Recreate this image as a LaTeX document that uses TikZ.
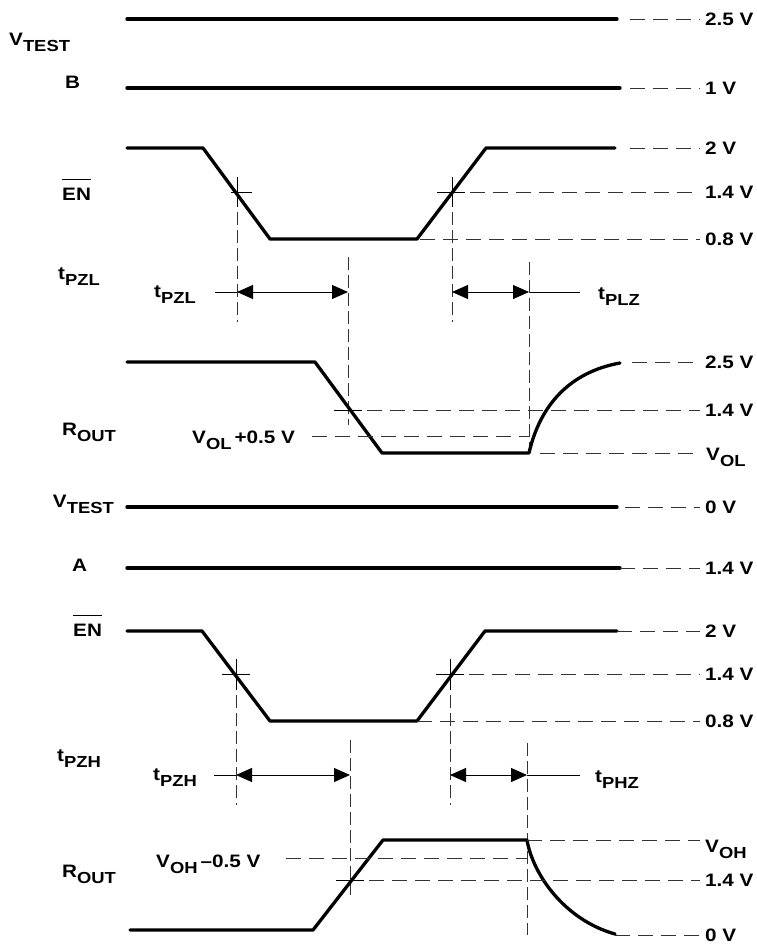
\documentclass[tikz,border=0pt]{standalone}
\usepackage{fontspec}
\setmainfont{Liberation Sans}[FakeStretch=1.15]
\usetikzlibrary{arrows.meta}
\newcommand{\lsub}[1]{\raisebox{-6.5pt}{\fontsize{16}{16}\selectfont #1}}
\begin{document}
\begin{tikzpicture}[x=1pt,y=-1pt,
  sig/.style={line width=3.3pt,line cap=round,line join=round},
  ref/.style={line width=1pt,black!80,dash pattern=on 15pt off 8pt},
  vref/.style={line width=1pt,black!80,dash pattern=on 13pt off 5pt},
  tick/.style={line width=0.9pt},
  dim/.style={line width=1pt,{Triangle[length=16pt,width=14pt]}-{Triangle[length=16pt,width=14pt]}},
  lbl/.style={font=\fontsize{18}{18}\selectfont\bfseries,inner sep=0pt,anchor=base west},
]
\useasboundingbox (0,0) rectangle (757,948);

% ---------- upper set ----------
\draw[sig] (127,19) -- (617,19);
\draw[ref] (630,19) -- (700,19);
\node[lbl] (r1) at (705,25.5) {2.5 V};
\node[lbl] (vt1) at (9,45) {V\lsub{TEST}};

\node[lbl] (b) at (65,88.5) {B};
\draw[sig] (127,88) -- (620,88);
\draw[ref] (630,88) -- (700,88);
\node[lbl] (r2) at (705,94.5) {1 V};

\node[lbl] (en1) at (62,200) {EN};
\draw[line width=0.8pt] ([yshift=8pt]en1.north west) -- ([yshift=8pt]en1.north east);
\draw[sig] (127,148) -- (203,148) -- (270,239) -- (417,239) -- (486,148) -- (615,148);
\draw[ref] (630,148) -- (700,148);
\node[lbl] (r3) at (705,154.5) {2 V};

\draw[tick] (231,192) -- (252,192);
\draw[tick] (237,177) -- (237,207);
\draw[vref] (237,212) -- (237,322);
\draw[tick] (437,192) -- (465,192);
\draw[ref] (470,192) -- (700,192);
\draw[tick] (452,177) -- (452,207);
\draw[vref] (452,212) -- (452,322);
\node[lbl] (r4) at (705,198.5) {1.4 V};
\draw[ref] (420,239) -- (700,239);
\node[lbl] (r5) at (705,245.5) {0.8 V};

\node[lbl] (tpzl1) at (58,279) {t\lsub{PZL}};
\node[lbl] (tpzl2) at (154,297) {t\lsub{PZL}};
\draw[tick] (215,292) -- (237,292);
\draw[dim] (237,292) -- (348,292);
\draw[vref] (348,257) -- (348,425);
\draw[dim] (452,292) -- (529,292);
\draw[tick] (529,292) -- (580,292);
\draw[vref] (529,262) -- (529,453);
\node[lbl] (tplz) at (598,299) {t\lsub{PLZ}};

\node[lbl] (rout1) at (62,435) {R\lsub{OUT}};
\draw[sig] (127,362) -- (315,362) -- (382,453) -- (529,453) .. controls (540,405) and (570,372) .. (620,363);
\draw[ref] (632,362) -- (700,362);
\node[lbl] (r6) at (705,368.5) {2.5 V};
\draw[tick] (334,410) -- (362,410);
\draw[ref] (367,410) -- (700,410);
\node[lbl] (r7) at (705,416.5) {1.4 V};
\draw[ref] (312,436) -- (529,436);
\node[lbl] (vol5) at (192,443) {V\lsub{OL}\,+0.5 V};
\draw[ref] (540,453) -- (700,453);
\node[lbl] (r8) at (706,460) {V\lsub{OL}};

% ---------- lower set ----------
\node[lbl,anchor=base east] (vt2) at (114,507) {V\lsub{TEST}};
\draw[sig] (127,507) -- (617,507);
\draw[ref] (625,507) -- (700,507);
\node[lbl] (r9) at (705,513.5) {0 V};

\node[lbl] (a) at (72,571) {A};
\draw[sig] (127,568) -- (620,568);
\draw[ref] (620,568) -- (700,568);
\node[lbl] (r10) at (705,574.5) {1.4 V};

\node[lbl] (en2) at (73,636) {EN};
\draw[line width=0.8pt] ([yshift=8pt]en2.north west) -- ([yshift=8pt]en2.north east);
\draw[sig] (127,631) -- (202,631) -- (270,721) -- (417,721) -- (485,631) -- (617,631);
\draw[ref] (617,631) -- (700,631);
\node[lbl] (r11) at (705,637.5) {2 V};

\draw[tick] (222,674) -- (250,674);
\draw[tick] (236,659) -- (236,690);
\draw[vref] (236,695) -- (236,805);
\draw[tick] (436,674) -- (464,674);
\draw[ref] (469,674) -- (700,674);
\draw[tick] (450,659) -- (450,690);
\draw[vref] (450,695) -- (450,805);
\node[lbl] (r12) at (705,680.5) {1.4 V};
\draw[ref] (417,721) -- (700,721);
\node[lbl] (r13) at (705,727.5) {0.8 V};

\node[lbl] (tpzh1) at (57,761) {t\lsub{PZH}};
\node[lbl] (tpzh2) at (153,780) {t\lsub{PZH}};
\draw[tick] (214,775) -- (236,775);
\draw[dim] (236,775) -- (350,775);
\draw[vref] (350,740) -- (350,895);
\draw[dim] (450,775) -- (527,775);
\draw[tick] (527,775) -- (580,775);
\draw[vref] (527,743) -- (527,935);
\node[lbl] (tphz) at (595,782) {t\lsub{PHZ}};

\node[lbl] (rout2) at (62,877) {R\lsub{OUT}};
\draw[sig] (130,930) -- (313,930) -- (383,840) -- (527,840) .. controls (533,875) and (565,920) .. (615,934);
\draw[ref] (527,840) -- (700,840);
\node[lbl] (r14) at (705,852) {V\lsub{OH}};
\draw[ref] (286,858) -- (527,858);
\node[lbl] (voh5) at (156,867) {V\lsub{OH}\,–0.5 V};
\draw[tick] (336,880) -- (364,880);
\draw[ref] (369,880) -- (700,880);
\node[lbl] (r15) at (705,886.5) {1.4 V};
\draw[ref] (615,935) -- (700,935);
\node[lbl] (r16) at (705,941.5) {0 V};
\end{tikzpicture}
\end{document}
